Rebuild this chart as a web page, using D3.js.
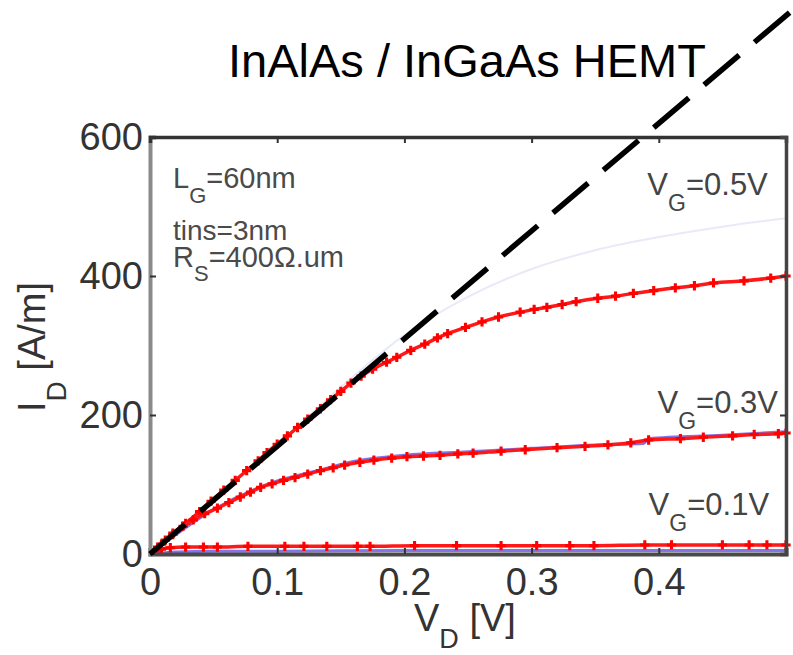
<!DOCTYPE html>
<html>
<head>
<meta charset="utf-8">
<script src="https://cdn.jsdelivr.net/npm/d3@7"></script>
<style>
  body { margin: 0; background: #fff; }
  svg { display: block; font-family: "Liberation Sans", Arial, sans-serif; }
</style>
</head>
<body>
<svg id="chart" width="793" height="655"></svg>
<script>
// measured curves (red, with markers): [V_D, I_D]
const vg05 = [[0,0],[0.009,14],[0.018,28],[0.028,44],[0.039,61],[0.048,76],[0.058,92],[0.067,106],[0.076,120],[0.085,134],[0.092,146],[0.100,158],[0.108,170],[0.116,182],[0.124,194],[0.134,209],[0.142,222],[0.150,234],[0.158,246],[0.166,256],[0.175,266],[0.186,276],[0.194,283],[0.205,293],[0.216,302],[0.226,311],[0.234,317],[0.248,326],[0.261,334],[0.274,341],[0.291,348],[0.302,352],[0.312,355],[0.324,359],[0.335,363],[0.352,368],[0.366,371],[0.380,375],[0.396,379],[0.413,383],[0.428,386],[0.443,390],[0.467,393],[0.488,397],[0.500,400]];
const vg03 = [[0,0],[0.006,10],[0.012,20],[0.018,30],[0.026,40],[0.034,49],[0.043,58],[0.053,66],[0.062,74],[0.071,82],[0.079,89],[0.087,96],[0.096,101],[0.105,106],[0.114,110],[0.124,115],[0.134,120],[0.144,124],[0.153,128],[0.165,132],[0.176,135],[0.190,138],[0.202,140],[0.215,141],[0.228,142],[0.242,144],[0.254,145],[0.276,148],[0.295,150],[0.320,153],[0.342,155],[0.360,157],[0.378,160],[0.392,164],[0.417,166],[0.435,168],[0.458,170],[0.475,172],[0.494,173],[0.500,174]];
const vg01 = [[0,0],[0.004,4],[0.009,7],[0.016,9],[0.028,10],[0.042,10],[0.053,10],[0.077,11],[0.106,11],[0.121,11],[0.139,11],[0.163,11],[0.173,11],[0.208,12],[0.241,12],[0.276,12],[0.304,12],[0.330,12],[0.349,12],[0.389,13],[0.410,13],[0.450,13],[0.471,13],[0.485,13],[0.500,13]];

// simulated curves (blue)
const sim05 = [[0,0],[0.05,80],[0.1,158],[0.15,240],[0.2,315],[0.25,370],[0.3,410],[0.35,437],[0.4,456],[0.45,471],[0.5,483]];
const sim03 = [[0,0],[0.05,64],[0.1,105],[0.13,119],[0.16,133],[0.2,142],[0.25,147],[0.3,152],[0.35,157],[0.388,159],[0.392,166],[0.45,171],[0.5,176]];
const sim01 = [[0,0],[0.02,3],[0.05,4],[0.1,4],[0.2,5],[0.3,5],[0.4,5],[0.5,5]];

// ballistic limit line
const limitLine = [[0,0],[0.506,784]];

const xTicks = [0, 0.1, 0.2, 0.3, 0.4];
const yTicks = [0, 200, 400, 600];
const curveLabels = ["0.5V", "0.3V", "0.1V"];
const labelPos = [[0.391, 517], [0.399, 203], [0.392, 56]];

const svg = d3.select("#chart");
const x = d3.scaleLinear().domain([0, 0.5]).range([150, 786]);
const y = d3.scaleLinear().domain([0, 600]).range([554, 137]);

const line = d3.line().x(d => x(d[0])).y(d => y(d[1])).curve(d3.curveMonotoneX);

// blue simulation
svg.append("path").datum(sim05).attr("d", line)
  .attr("fill", "none").attr("stroke", "#e8eaf8").attr("stroke-width", 2);
[sim03, sim01].forEach(s => {
  svg.append("path").datum(s).attr("d", line)
    .attr("fill", "none").attr("stroke", "#5b45e0").attr("stroke-opacity", 0.75)
    .attr("stroke-width", 3);
});

// red measured curves
[vg05, vg03, vg01].forEach(s => {
  svg.append("path").datum(s).attr("d", line)
    .attr("fill", "none").attr("stroke", "#ff1818").attr("stroke-width", 3.5);
  svg.append("g").selectAll("path").data(s.slice(1)).join("path")
    .attr("transform", d => "translate(" + x(d[0]) + "," + y(d[1]) + ")")
    .attr("d", d3.symbol(d3.symbolCross, 48))
    .attr("fill", "#ff0000");
});

// frame + axes
const fmt = d => d === 0 ? "0" : d3.format(".1f")(d);
const gx = svg.append("g").attr("transform", "translate(0,554)")
  .call(d3.axisBottom(x).tickValues(xTicks).tickFormat(fmt).tickSize(-6).tickPadding(14));
const gy = svg.append("g").attr("transform", "translate(150,0)")
  .call(d3.axisLeft(y).tickValues(yTicks).tickSize(-6).tickPadding(7));
const gt = svg.append("g").attr("transform", "translate(0,137)")
  .call(d3.axisTop(x).tickValues(xTicks.slice(1)).tickFormat("").tickSize(-6));
const gr = svg.append("g").attr("transform", "translate(786,0)")
  .call(d3.axisRight(y).tickValues(yTicks.slice(1, 3)).tickFormat("").tickSize(-6));

[gx, gy, gt, gr].forEach(g => {
  g.selectAll("text").attr("font-size", 38).attr("fill", "#333")
    .attr("font-family", "Liberation Sans, Arial, sans-serif");
  g.selectAll(".tick line").attr("stroke", "#333").attr("stroke-width", 2);
});
gx.select(".domain").attr("stroke", "#4a4a4a").attr("stroke-width", 4);
gy.select(".domain").attr("stroke", "#8a8a8a").attr("stroke-width", 4);
gt.select(".domain").attr("stroke", "#333").attr("stroke-width", 3.5);
gr.select(".domain").attr("stroke", "#444").attr("stroke-width", 3.5);

// dashed limit line on top
svg.append("path").datum(limitLine)
  .attr("d", d3.line().x(d => x(d[0])).y(d => y(d[1])))
  .attr("fill", "none").attr("stroke", "#000").attr("stroke-width", 5.5)
  .attr("stroke-dasharray", "46,20");

// title
svg.append("text").attr("x", 228).attr("y", 77).attr("font-size", 47)
  .attr("fill", "#000").text("InAlAs / InGaAs HEMT");

// subscripted text helper
function subText(px, py, main, sub, rest, fs, sfs, shift, color) {
  const t = svg.append("text").attr("x", px).attr("y", py)
    .attr("font-size", fs).attr("fill", color);
  t.append("tspan").text(main);
  t.append("tspan").attr("font-size", sfs).attr("dy", shift).text(sub);
  t.append("tspan").attr("dy", -shift).text(rest);
  return t;
}

// axis titles
subText(414, 631, "V", "D", " [V]", 38, 27, 17, "#333");
subText(0, 0, "I", "D", " [A/m]", 38, 28, 21, "#333")
  .attr("x", null).attr("y", null)
  .attr("transform", "translate(45,412) rotate(-90)");

// device annotation
subText(173, 188, "L", "G", "=60nm", 29, 22, 15, "#4a4a4a");
svg.append("text").attr("x", 173).attr("y", 240).attr("font-size", 28)
  .attr("fill", "#4a4a4a").text("tins=3nm");
subText(173, 267, "R", "S", "=400\u03A9.um", 29, 22, 14, "#4a4a4a");

// gate voltage labels
curveLabels.forEach((lab, i) => {
  subText(x(labelPos[i][0]), y(labelPos[i][1]), "V", "G", "=" + lab, 31, 23, 16, "#444");
});
</script>
</body>
</html>
